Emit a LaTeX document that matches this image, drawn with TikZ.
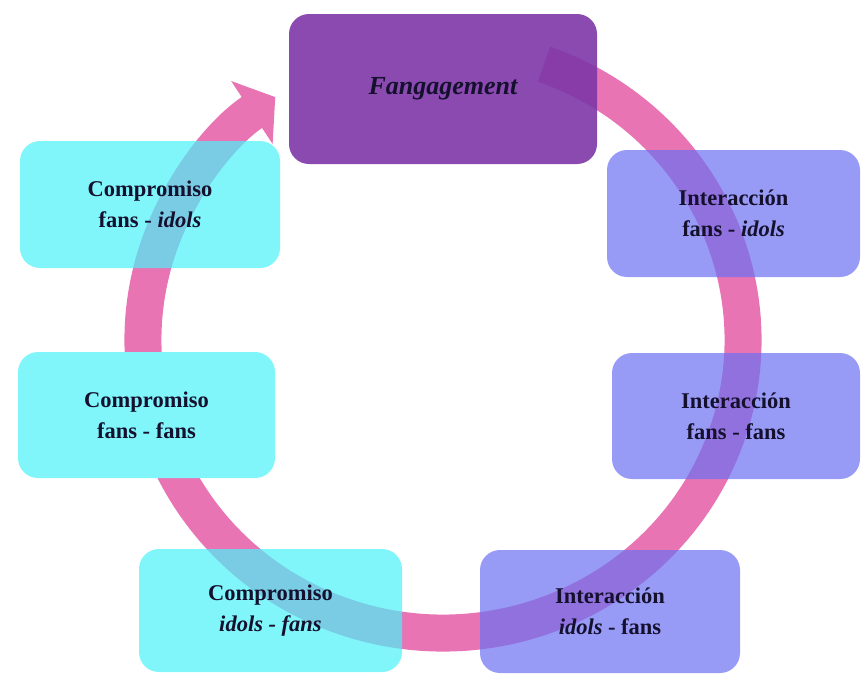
\documentclass[tikz,border=0pt]{standalone}
\usepackage{fontspec}
\setmainfont{Liberation Serif}
\usepackage{tikz}
\usetikzlibrary{arrows.meta}
\definecolor{ring}{HTML}{E874B4}
\definecolor{lila}{HTML}{7D36A7}
\definecolor{celeste}{HTML}{4AF2F8}
\definecolor{azul}{HTML}{6C70F1}
\definecolor{tinta}{HTML}{14102E}

\begin{document}
\begin{tikzpicture}[x=1pt,y=1pt,
    caja/.style={rectangle, rounded corners=20pt, inner sep=0pt, align=center,
      text=tinta, text opacity=1, fill opacity=0.7,
      font=\fontsize{22.5}{31}\selectfont\bfseries},
    comp/.style={caja, fill=celeste},
    inter/.style={caja, fill=azul}]
        \useasboundingbox (0,0) rectangle (861,-675);
        \draw[ring, line width=37pt, -{Triangle[length=28pt,width=74pt]}]
          (443,-340) ++(70.3:300 and 293)
          arc[start angle=70.3, end angle=-236, x radius=300, y radius=293];
        \node[caja, fill=lila, fill opacity=0.9, minimum width=308pt, minimum height=150pt,
          font=\fontsize{26}{31}\selectfont\bfseries\itshape] (fang) at (443,-89) {Fangagement};
        \node[comp, minimum width=260pt, minimum height=127pt] (cfi) at (150,-204.5) {Compromiso\\fans - \textit{idols}};
        \node[comp, fill=celeste!70!white, fill opacity=1, minimum width=257pt, minimum height=126pt] (cff) at (146.5,-415) {Compromiso\\fans - fans};
        \node[comp, minimum width=263pt, minimum height=123pt] (cif) at (270.5,-610.5) {Compromiso\\\textit{idols - fans}};
        \node[inter, minimum width=253pt, minimum height=127pt] (ifi) at (733.5,-213.5) {Interacción\\fans - \textit{idols}};
        \node[inter, minimum width=248pt, minimum height=126pt] (iff) at (736,-416) {Interacción\\fans - fans};
        \node[inter, minimum width=260pt, minimum height=123pt] (iif) at (610,-611.5) {Interacción\\\textit{idols} - fans};
\end{tikzpicture}
\end{document}
